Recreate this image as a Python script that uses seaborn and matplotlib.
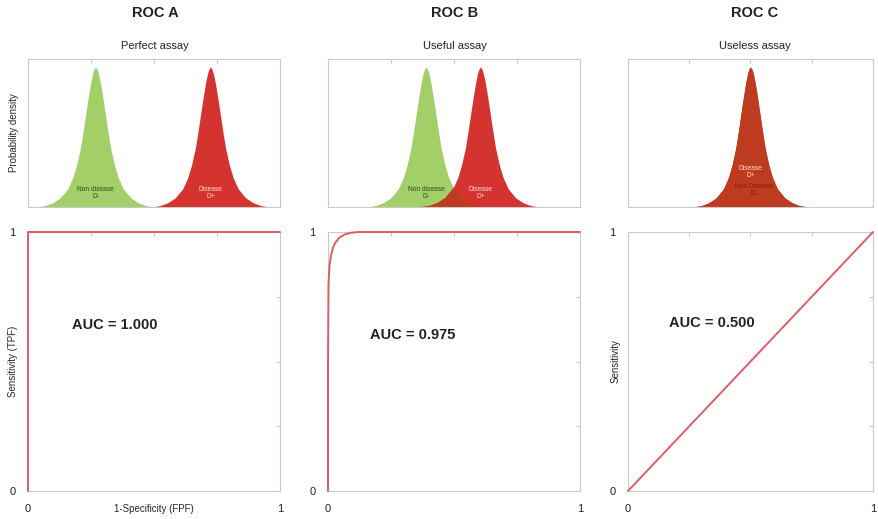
import matplotlib
matplotlib.use('Agg')
import matplotlib.pyplot as plt
import seaborn as sns
import numpy as np
import pandas as pd

# Hình dạng đỉnh mật độ: độ lệch so với tâm và chiều cao tương đối
peak_offsets = [0.0, 0.006, 0.012, 0.02, 0.03, 0.04, 0.05, 0.06, 0.075, 0.09, 0.11, 0.14, 0.17, 0.20, 0.235]
peak_heights = [1.0, 0.985, 0.95, 0.88, 0.77, 0.65, 0.53, 0.42, 0.30, 0.21, 0.13, 0.065, 0.03, 0.01, 0.0]

# Tâm của phân bố (không bệnh, có bệnh) cho từng panel
healthy_centers = [0.268, 0.389, 0.50]
disease_centers = [0.724, 0.605, 0.50]

# Đường ROC
roc_a_fpr = [0, 0, 1]
roc_a_tpr = [0, 1, 1]
roc_b_fpr = [0, 0.0, 0.002, 0.006, 0.012, 0.02, 0.03, 0.045, 0.065, 0.09, 0.12, 1.0]
roc_b_tpr = [0, 0.5, 0.80, 0.87, 0.91, 0.94, 0.96, 0.978, 0.99, 0.997, 1.0, 1.0]
roc_c_fpr = [0, 1]
roc_c_tpr = [0, 1]

titles = ['ROC A', 'ROC B', 'ROC C']
subtitles = ['Perfect assay', 'Useful assay', 'Useless assay']
auc_labels = ['AUC = 1.000', 'AUC = 0.975', 'AUC = 0.500']

sns.set_style('white')
plt.rcParams['font.family'] = ['Liberation Sans', 'DejaVu Sans']

W, H = 879, 519
fig = plt.figure(figsize=(W / 100, H / 100), dpi=100)

lefts = [28, 328, 628]
widths = [252, 252, 245]

def fx(px):
    return px / W

def fy(py):
    return 1 - py / H

GREEN = '#a3cf68'
RED = '#d5332f'
OVERLAP = '#bf3b20'
LINE_RED = '#e35c62'
SPINE = '#c9c9c9'

def style_axes(ax):
    for s in ax.spines.values():
        s.set_color(SPINE)
        s.set_linewidth(0.8)
    ax.tick_params(direction='in', length=3, color=SPINE, top=True, right=True,
                   labelsize=8, labelcolor='#222222', pad=9)

def profile(center):
    offs = np.array(peak_offsets)
    hts = np.array(peak_heights)
    xs = np.concatenate([center - offs[::-1], center + offs[1:]])
    ys = np.concatenate([hts[::-1], hts[1:]])
    return xs, ys

roc_data = [(roc_a_fpr, roc_a_tpr), (roc_b_fpr, roc_b_tpr), (roc_c_fpr, roc_c_tpr)]
auc_pos = [(115, 325), (413, 335), (712, 323)]

for i in range(3):
    # panel mật độ
    ax = fig.add_axes([fx(lefts[i]), fy(207), fx(widths[i]), (207 - 59) / H])
    gx, gy = profile(healthy_centers[i])
    dx, dy = profile(disease_centers[i])
    ax.fill_between(gx, 0, gy, color=GREEN, lw=0)
    red_poly = ax.fill_between(dx, 0, dy, color=RED, lw=0)
    # vùng chồng lấp: đổ màu tối hơn, cắt theo hình của phân bố bệnh
    over = ax.fill_between(gx, 0, gy, color=OVERLAP, lw=0)
    over.set_clip_path(red_poly.get_paths()[0], ax.transData)
    ax.set_xlim(0, 1)
    ax.set_ylim(0, 1.057)
    ax.set_xticks([0, 0.25, 0.5, 0.75, 1])
    ax.set_yticks([])
    ax.set_xticklabels([])
    style_axes(ax)
    ax.tick_params(bottom=False)
    if i == 0:
        ax.set_ylabel('Probability density', fontsize=7)
        ax.yaxis.set_label_coords(-0.035, 0.5)
    if i < 2:
        ax.text(healthy_centers[i], 0.1, 'Non disease\nD-', ha='center', va='center',
                fontsize=4.8, color='#2f4a14', linespacing=1.0)
        ax.text(disease_centers[i], 0.1, 'Disease\nD+', ha='center', va='center',
                fontsize=4.8, color='#ffd8d0', linespacing=1.0)
    else:
        ax.text(disease_centers[i], 0.25, 'Disease\nD+', ha='center', va='center',
                fontsize=4.8, color='#ffd8d0', linespacing=1.0)
        ax.text(disease_centers[i] + 0.015, 0.12, 'Non Disease\nD-', ha='center', va='center',
                fontsize=4.8, color='#7a1e10', linespacing=1.0)

    # panel ROC
    ax2 = fig.add_axes([fx(lefts[i]), fy(491), fx(widths[i]), (491 - 232) / H])
    df = pd.DataFrame({'fpr': roc_data[i][0], 'tpr': roc_data[i][1]})
    sns.lineplot(data=df, x='fpr', y='tpr', sort=False, estimator=None, ax=ax2,
                 color=LINE_RED, lw=1.4, clip_on=False, zorder=5)
    ax2.set_xlim(0, 1)
    ax2.set_ylim(0, 1)
    ax2.set_xticks([0, 0.25, 0.5, 0.75, 1])
    ax2.set_yticks([0, 0.25, 0.5, 0.75, 1])
    ax2.set_xticklabels(['0', '', '', '', '1'])
    ax2.set_yticklabels(['0', '', '', '', '1'])
    style_axes(ax2)
    ax2.set_xlabel('')
    ax2.set_ylabel('')
    if i == 0:
        ax2.set_xlabel('1-Specificity (FPF)', fontsize=7)
        ax2.xaxis.set_label_coords(0.5, -0.052)
        ax2.set_ylabel('Sensitivity (TPF)', fontsize=7)
        ax2.yaxis.set_label_coords(-0.038, 0.5)
    if i == 2:
        ax2.set_ylabel('Sensitivity', fontsize=7)
        ax2.yaxis.set_label_coords(-0.03, 0.5)

    fig.text(fx(lefts[i] + 127), fy(13), titles[i], ha='center', va='center',
             fontsize=10.5, fontweight='bold', color='#222222')
    fig.text(fx(lefts[i] + 127), fy(46), subtitles[i], ha='center', va='center',
             fontsize=8, color='#222222')
    fig.text(fx(auc_pos[i][0]), fy(auc_pos[i][1]), auc_labels[i], ha='center', va='center',
             fontsize=10.5, fontweight='bold', color='#222222')

fig.savefig('out.png', dpi=100)
